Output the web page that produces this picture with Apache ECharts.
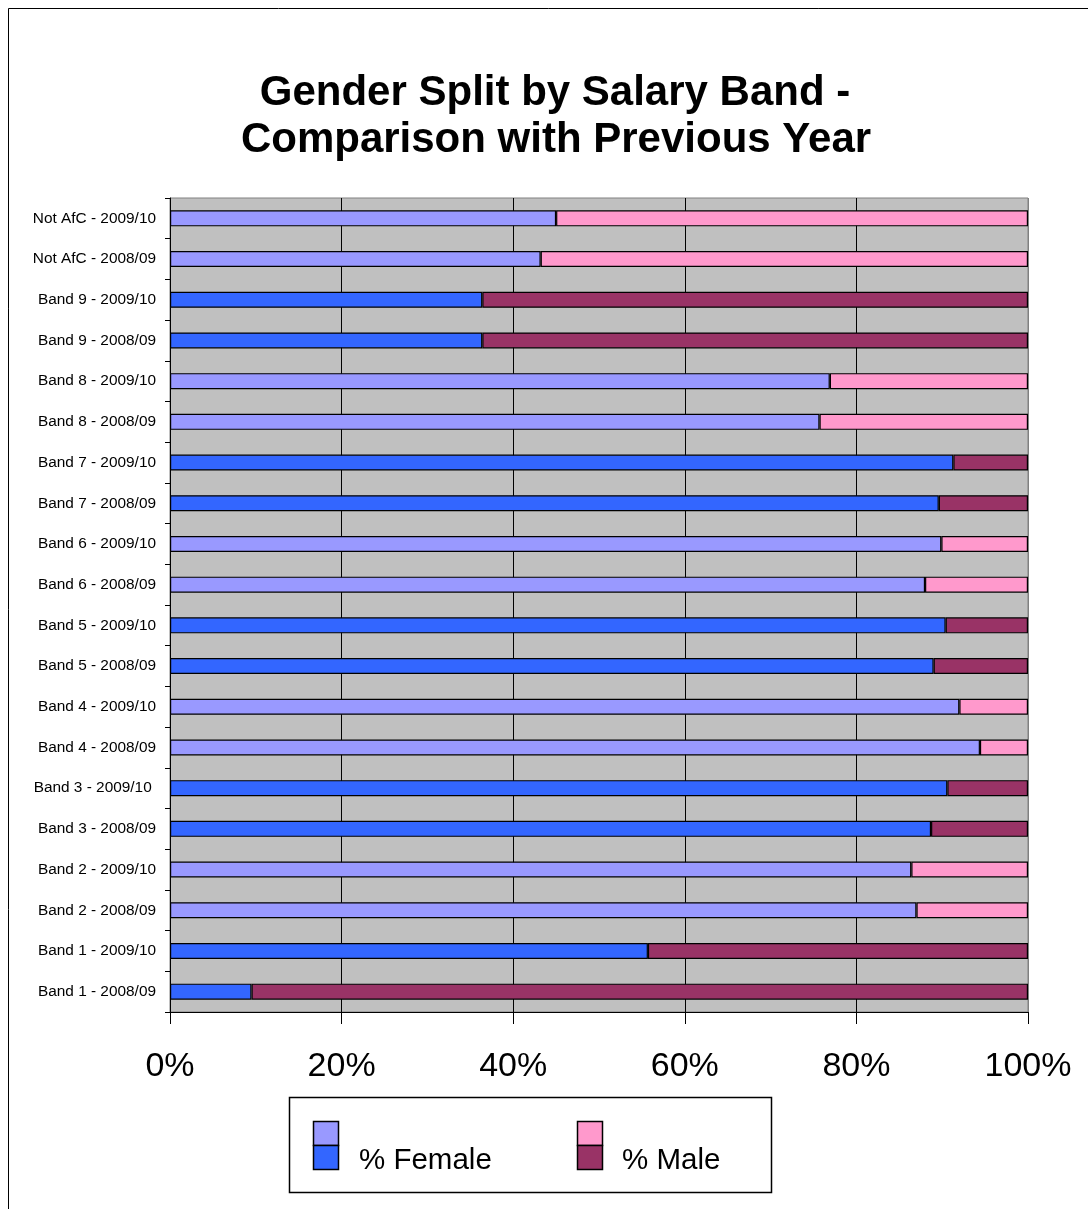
<!DOCTYPE html>
<html>
<head>
<meta charset="utf-8">
<title>Gender Split by Salary Band</title>
<script src="https://cdn.jsdelivr.net/npm/echarts@6/dist/echarts.min.js"></script>
<style>
  html, body { margin: 0; padding: 0; background: #fff; }
  #chart { width: 1088px; height: 1209px; }
</style>
</head>
<body>
<div id="chart"></div>
<script>
// Salary band / year rows, listed bottom to top
const categories = [
  'Band 1 - 2008/09', 'Band 1 - 2009/10',
  'Band 2 - 2008/09', 'Band 2 - 2009/10',
  'Band 3 - 2008/09', 'Band 3 - 2009/10 ',
  'Band 4 - 2008/09', 'Band 4 - 2009/10',
  'Band 5 - 2008/09', 'Band 5 - 2009/10',
  'Band 6 - 2008/09', 'Band 6 - 2009/10',
  'Band 7 - 2008/09', 'Band 7 - 2009/10',
  'Band 8 - 2008/09', 'Band 8 - 2009/10',
  'Band 9 - 2008/09', 'Band 9 - 2009/10',
  'Not AfC - 2008/09', 'Not AfC - 2009/10'
];

// Share of staff (%) in each row
const femalePct = [9.5, 55.7, 87.0, 86.4, 88.7, 90.6, 94.4, 92.0, 89.0, 90.4,
                   88.0, 89.9, 89.6, 91.3, 75.7, 76.9, 36.4, 36.4, 43.2, 45.0];
const malePct   = [90.5, 44.3, 13.0, 13.6, 11.3, 9.4, 5.6, 8.0, 11.0, 9.6,
                   12.0, 10.1, 10.4, 8.7, 24.3, 23.1, 63.6, 63.6, 56.8, 55.0];

const xTicks = [0, 20, 40, 60, 80, 100];
const legendNames = ['% Female', '% Male'];
const titleLines = ['Gender Split by Salary Band -', 'Comparison with Previous Year'];

const FONT = '"Liberation Sans", Arial, Helvetica, sans-serif';
const FEMALE = { light: '#9999FF', dark: '#3366FF' };
const MALE = { light: '#FF99CC', dark: '#993366' };

// Bands 1, 3, 5, 7, 9 use the dark shade; the rest use the light one
function isDarkRow(i) { return Math.floor(i / 2) % 2 === 0; }

const chart = echarts.init(document.getElementById('chart'), null, { renderer: 'canvas' });

const gridLeft = 170, gridTop = 198, gridWidth = 858, gridHeight = 814;

chart.setOption({
  animation: false,
  backgroundColor: '#ffffff',
  textStyle: { fontFamily: FONT },
  grid: {
    left: gridLeft, top: gridTop, width: gridWidth, height: gridHeight,
    show: true, backgroundColor: '#C0C0C0', borderColor: '#808080', borderWidth: 1
  },
  xAxis: {
    type: 'value',
    min: xTicks[0], max: xTicks[xTicks.length - 1], interval: xTicks[1] - xTicks[0],
    axisLine: { show: true, lineStyle: { color: '#000', width: 1 } },
    axisTick: { show: true, length: 12, lineStyle: { color: '#000' } },
    axisLabel: { formatter: '{value}%', fontSize: 34, color: '#000', margin: 38, fontFamily: FONT },
    splitLine: { show: true, lineStyle: { color: ['#000', '#000', '#000', '#000', '#000', '#808080'], width: 1 } }
  },
  yAxis: {
    type: 'category',
    data: categories,
    axisLine: { show: true, lineStyle: { color: '#000', width: 1 } },
    axisTick: { show: true, length: 5, lineStyle: { color: '#000' } },
    axisLabel: { fontSize: 15.4, color: '#000', margin: 14, fontFamily: FONT },
    splitLine: { show: false }
  },
  series: [
    {
      name: legendNames[0], type: 'bar', stack: 'total', barWidth: 16,
      data: femalePct,
      itemStyle: {
        borderColor: '#000', borderWidth: 1.2,
        color: p => isDarkRow(p.dataIndex) ? FEMALE.dark : FEMALE.light
      }
    },
    {
      name: legendNames[1], type: 'bar', stack: 'total', barWidth: 16,
      data: malePct,
      itemStyle: {
        borderColor: '#000', borderWidth: 1.2,
        color: p => isDarkRow(p.dataIndex) ? MALE.dark : MALE.light
      }
    }
  ],
  graphic: [
    // outer frame
    { type: 'rect', shape: { x: 8.5, y: 8.5, width: 1100, height: 1220 },
      style: { fill: null, stroke: '#000', lineWidth: 1 }, silent: true },
    // title, two lines
    { type: 'text', x: 555, y: 93,
      style: { text: titleLines[0], font: 'bold 42px ' + FONT,
               fill: '#000', textAlign: 'center', textVerticalAlign: 'middle' } },
    { type: 'text', x: 556, y: 140,
      style: { text: titleLines[1], font: 'bold 42px ' + FONT,
               fill: '#000', textAlign: 'center', textVerticalAlign: 'middle' } },
    // legend box
    { type: 'rect', shape: { x: 289.5, y: 1097.5, width: 482, height: 95 },
      style: { fill: '#fff', stroke: '#000', lineWidth: 1.5 } },
    { type: 'rect', shape: { x: 313.5, y: 1121.5, width: 25, height: 24 },
      style: { fill: FEMALE.light, stroke: '#000', lineWidth: 1.5 } },
    { type: 'rect', shape: { x: 313.5, y: 1145.5, width: 25, height: 24 },
      style: { fill: FEMALE.dark, stroke: '#000', lineWidth: 1.5 } },
    { type: 'text', x: 359, y: 1161,
      style: { text: legendNames[0], font: '29.5px ' + FONT, fill: '#000',
               textAlign: 'left', textVerticalAlign: 'middle' } },
    { type: 'rect', shape: { x: 577.5, y: 1121.5, width: 25, height: 24 },
      style: { fill: MALE.light, stroke: '#000', lineWidth: 1.5 } },
    { type: 'rect', shape: { x: 577.5, y: 1145.5, width: 25, height: 24 },
      style: { fill: MALE.dark, stroke: '#000', lineWidth: 1.5 } },
    { type: 'text', x: 622, y: 1161,
      style: { text: legendNames[1], font: '29.5px ' + FONT, fill: '#000',
               textAlign: 'left', textVerticalAlign: 'middle' } }
  ]
});
</script>
</body>
</html>
